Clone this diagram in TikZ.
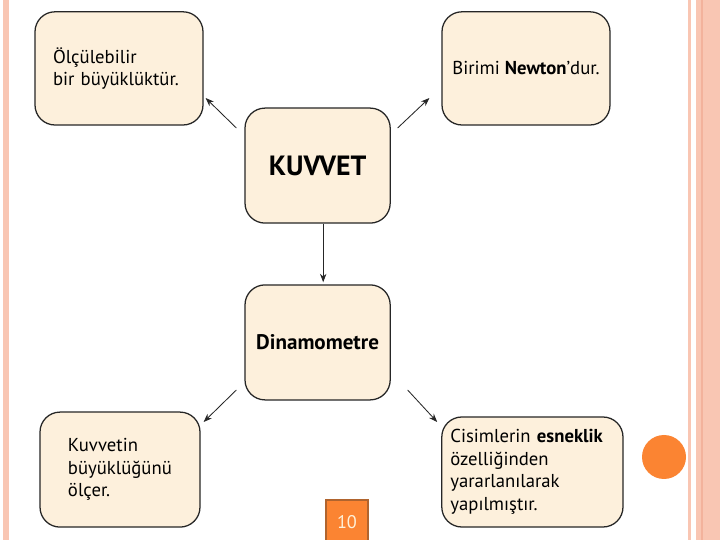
\documentclass[tikz,border=0pt]{standalone}
\usepackage{fontspec}
\setmainfont{PT Sans}
\usetikzlibrary{arrows.meta}
\definecolor{kutu}{HTML}{FDF0DC}
\definecolor{serit}{HTML}{F9C6B3}
\definecolor{seritkoyu}{HTML}{F3B29C}
\definecolor{turuncu}{HTML}{FB8432}
\definecolor{kahve}{HTML}{B0642E}
\definecolor{krem}{HTML}{FFF1D8}
\begin{document}
\begin{tikzpicture}[
    kart/.style={draw=black!85, fill=kutu, rectangle, rounded corners=0.5cm, line width=0.9pt, minimum width=4.2cm, minimum height=2.83cm, align=left, font=\fontsize{13.3}{16}\selectfont},
    merkez/.style={kart, minimum width=3.63cm, minimum height=2.875cm, align=center},
    ok/.style={-{Stealth[length=6pt, width=4.5pt]}, line width=0.6pt, draw=black!85}
]
\useasboundingbox (0,0) rectangle (18,13.5);
\fill[white] (0,0) rectangle (18,13.5);

% kenar seritleri
\fill[serit] (0.075,0) rectangle (0.225,13.5);
\fill[serit] (17.2,0) rectangle (17.275,13.5);
\fill[serit] (17.4,0) rectangle (18,13.5);
\fill[seritkoyu] (17.525,0) rectangle (17.575,13.5);
\fill[turuncu] (16.6,2.075) circle (0.55);

% KUVVET
\node[merkez, font=\fontsize{19.8}{22}\selectfont\bfseries] (kuvvet) at (7.94, 9.36) {KUVVET};
\node[merkez, font=\fontsize{15}{18}\selectfont\bfseries] (dinamo) at (7.94, 4.94) {Dinamometre};
\draw[ok] ([xshift=0.14cm]kuvvet.south) -- ([xshift=0.14cm, yshift=0.05cm]dinamo.north);

% ust
\node[kart, text width=3.3cm] (olcu) at (2.975, 11.79) {Ölçülebilir\\bir büyüklüktür.};
\node[kart, align=center] (birim) at (13.15, 11.79) {Birimi \textbf{Newton}’dur.};
\draw[ok] ([xshift=-0.2cm, yshift=0.94cm]kuvvet.west) -- ([xshift=0.05cm, yshift=-0.74cm]olcu.east);
\draw[ok] ([xshift=0.17cm, yshift=0.94cm]kuvvet.east) -- ([xshift=-0.3cm, yshift=-0.74cm]birim.west);

% alt
\node[kart, minimum width=4cm, minimum height=2.875cm, text width=2.6cm] (olcer) at (3.0, 1.76) {Kuvvetin\\büyüklüğünü\\ölçer.};
\node[kart, minimum width=4.53cm, minimum height=2.75cm, text width=4.1cm] (esnek) at (13.31, 1.70) {Cisimlerin \textbf{esneklik}\\özelliğinden\\yararlanılarak\\yapılmıştır.};
\draw[ok] ([xshift=-0.2cm, yshift=-1.19cm]dinamo.west) -- ([xshift=0.075cm, yshift=1.19cm]olcer.east);
\draw[ok] ([xshift=0.42cm, yshift=-1.19cm]dinamo.east) -- ([xshift=-0.1cm, yshift=1.25cm]esnek.west);

% sayfa no
\node[draw=kahve, fill=turuncu, line width=1.4pt, minimum width=1.05cm, minimum height=1.1cm, text=krem, font=\fontsize{13}{15}\selectfont, anchor=north west, inner sep=0pt] (sayfa) at (8.125, 1.025) {10};
\end{tikzpicture}
\end{document}
